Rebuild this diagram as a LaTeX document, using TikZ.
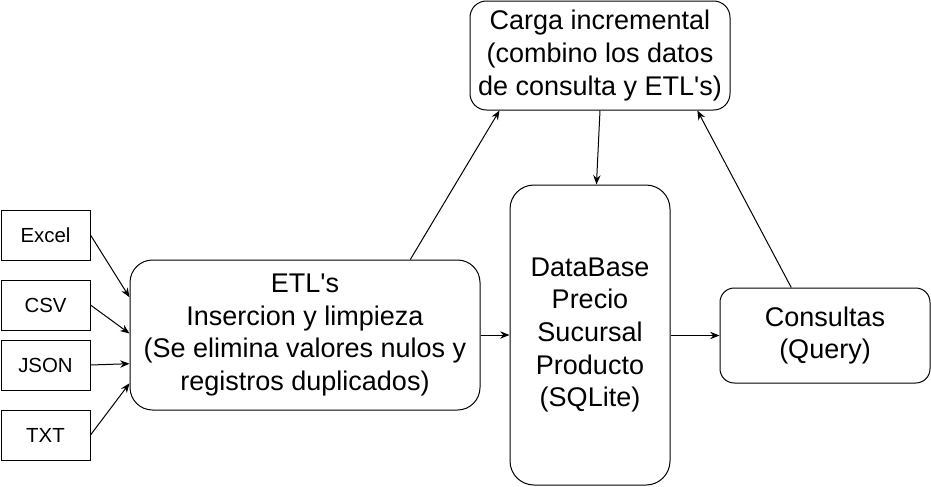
\documentclass[tikz,border=0pt]{standalone}
\usepackage{fontspec}
\setmainfont{Liberation Sans}
\usetikzlibrary{arrows.meta,calc}
\tikzset{
  srcbox/.style = {draw = black, line width = 0.75pt, minimum width = 66.75pt, minimum height = 37.5pt, font = \fontsize{15.3pt}{18pt}\selectfont},
  bigbox/.style = {draw = black, line width = 0.75pt, align = center, font = \fontsize{20.25pt}{24.4pt}\selectfont},
  flow/.style = {-{Stealth[length = 7pt, width = 5.5pt]}, line width = 0.75pt}
}
\begin{document}
\begin{tikzpicture}[x = 0.75pt, y = -0.75pt]
\useasboundingbox (0,0) rectangle (931,486);
% fuentes de datos
\foreach \name/\y in {Excel/235, CSV/305, JSON/365, TXT/435}
  \node[srcbox] (\name) at (45.5,\y) {\name};
\node[bigbox, minimum width = 262.5pt, minimum height = 112.5pt, rounded corners = 16.9pt] (etl) at (305,335) {ETL\textquotesingle s\\Insercion y limpieza\\(Se elimina valores nulos y\\registros duplicados)};
\node[bigbox, minimum width = 195pt, minimum height = 81.75pt, rounded corners = 12.3pt] (carga) at (600,55.5) {Carga incremental\\(combino los datos\\de consulta y ETL\textquotesingle s)};
\node[bigbox, minimum width = 120pt, minimum height = 225pt, rounded corners = 18pt] (db) at (590,335) {DataBase\\Precio\\Sucursal\\Producto\\(SQLite)};
\node[bigbox, minimum width = 157.5pt, minimum height = 71.25pt, rounded corners = 10.7pt] (consultas) at (825,335.5) {Consultas\\(Query)};
% entradas al ETL
\foreach \name/\f in {Excel/0.25, CSV/0.49, JSON/0.69, TXT/0.82}
  \draw[flow] (\name.east) -- ($(etl.north west)!\f!(etl.south west)$);
\draw[flow] ($(etl.north west)!0.8!(etl.north east)$) -- ($(carga.south west)!0.115!(carga.south east)$);
\draw[flow] (carga.south) -- ($(db.north west)!0.54!(db.north east)$);
\draw[flow] (etl.east) -- (etl.east -| db.west);
\draw[flow] (db.east |- consultas.west) -- (consultas.west);
\draw[flow] ($(consultas.north west)!0.34!(consultas.north east)$) -- ($(carga.south west)!0.873!(carga.south east)$);
\end{tikzpicture}
\end{document}
